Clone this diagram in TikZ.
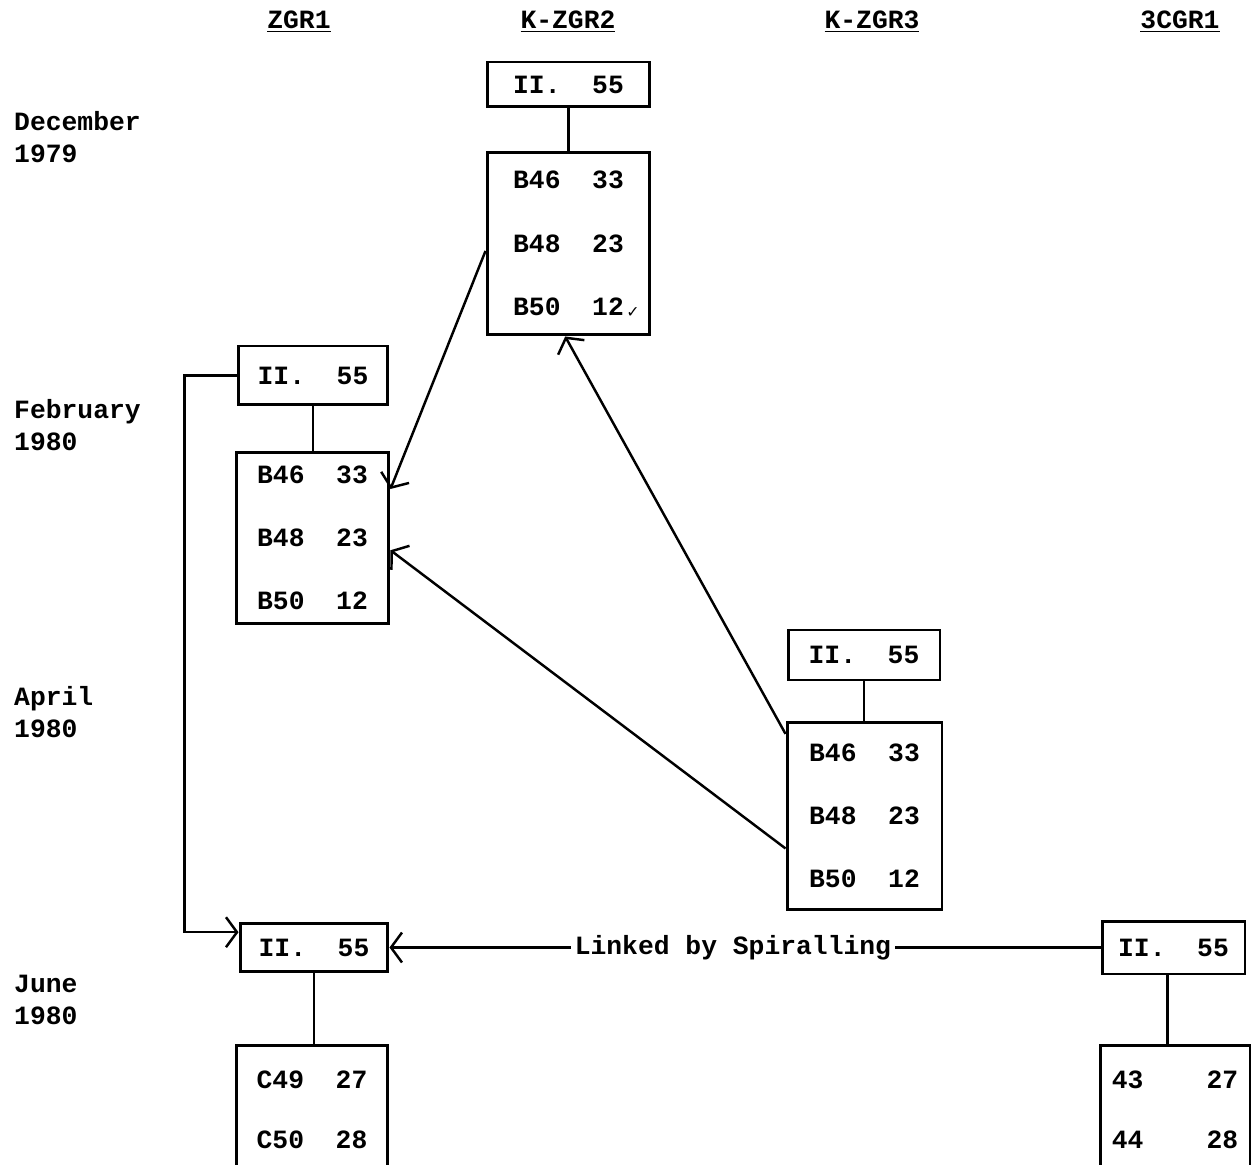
\documentclass[tikz,border=0pt]{standalone}
\usepackage{fontspec}
\setmainfont{Liberation Mono}
\newfontfamily\tickfont{DejaVu Sans}
\usetikzlibrary{arrows.meta,calc}

\begin{document}
\begin{tikzpicture}[x=0.02cm, y=-0.02cm,
  every node/.style={font=\fontsize{15}{18}\selectfont\bfseries},
  cell/.style={draw, line width=1.7pt, inner sep=0pt},
  link/.style={line width=1.4pt},
  >={Straight Barb[length=0.22cm, width=0.6cm, line width=1.4pt]}]
  \useasboundingbox (0,0) rectangle (1251,1165);
  \clip (0,0) rectangle (1251,1165);

  \node (hz1) at (299,22) {\underline{ZGR1}};
  \node (hk2) at (568,22) {\underline{K-ZGR2}};
  \node (hk3) at (872,22) {\underline{K-ZGR3}};
  \node (hc3) at (1180,22) {\underline{3CGR1}};

  \node[anchor=west, align=left] (dec) at (8,137) {December\\1979};
  \node[anchor=west, align=left] (feb) at (8,425) {February\\1980};
  \node[anchor=west, align=left] (apr) at (8,712) {April\\1980};
  \node[anchor=west, align=left] (jun) at (8,1000) {June\\1980};

  \node[cell, minimum width=3.26cm, minimum height=0.9cm] (k2t) at (568.5,84.5) {II.~~55};
  \node[cell, minimum width=3.26cm, minimum height=3.66cm, align=left] (k2b) at (568.5,243.5)
    {B46~~33\\[18pt]B48~~23\\[18pt]B50~~12};
  \node[font=\tickfont\fontsize{9}{9}\selectfont] (tick) at (633,313) {✓};
  \draw[link] (k2t.south) -- (k2t.south |- k2b.north);

  \node[cell, minimum width=3cm, minimum height=1.18cm] (f1t) at (313,375.5) {II.~~55};
  \node[cell, minimum width=3.06cm, minimum height=3.44cm, align=left] (f1b) at (312.5,538)
    {B46~~33\\[18pt]B48~~23\\[18pt]B50~~12};
  \draw[link] (f1t.south) -- (f1t.south |- f1b.north);

  \node[cell, minimum width=3.04cm, minimum height=1cm] (a3t) at (864,655) {II.~~55};
  \node[cell, minimum width=3.1cm, minimum height=3.76cm, align=left] (a3b) at (864.5,816)
    {B46~~33\\[18pt]B48~~23\\[18pt]B50~~12};
  \draw[link] (a3t.south) -- (a3t.south |- a3b.north);

  \node[cell, minimum width=2.96cm, minimum height=0.96cm] (j1t) at (314,947.5) {II.~~55};
  \node[cell, minimum width=3.04cm, minimum height=2.6cm, align=left] (j1b) at (312,1110)
    {C49~~27\\[16pt]C50~~28};
  \draw[link] (j1t.south) -- (j1t.south |- j1b.north);

  \node[cell, minimum width=2.86cm, minimum height=1.06cm] (j3t) at (1173.5,947.5) {II.~~55};
  \node[cell, minimum width=3cm, minimum height=2.6cm, align=left] (j3b) at (1175,1110)
    {43~~~~27\\[16pt]44~~~~28};
  \draw[link] ($(j3t.south west)!0.46!(j3t.south east)$) -- ++(0,70);

  \draw[link,->] ($(k2b.north west)!0.54!(k2b.south west)$) -- ($(f1b.north east)!0.22!(f1b.south east)$);
  \draw[link,->] ($(a3b.north west)!0.07!(a3b.south west)$) -- ($(k2b.south west)!0.48!(k2b.south east)$);
  \draw[link,->] ($(a3b.north west)!0.67!(a3b.south west)$) -- ($(f1b.north east)!0.57!(f1b.south east)$);
  \draw[link,->] (f1t.west) -- ++(-52,0) |- ($(j1t.north west)!0.2!(j1t.south west)$);
  \draw[link,->] (j3t.west) -- node[pos=0.517, fill=white, inner sep=2pt] (spiral) {Linked by Spiralling} (j1t.east);
\end{tikzpicture}
\end{document}
